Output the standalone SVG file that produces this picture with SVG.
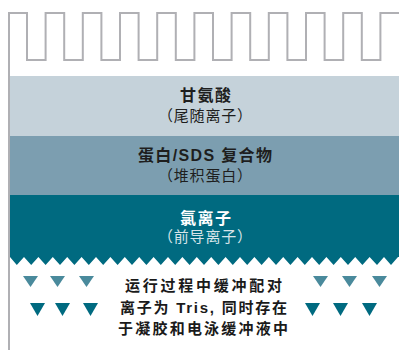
<svg xmlns="http://www.w3.org/2000/svg" width="399" height="350" viewBox="0 0 399 350">
<style>
.t{font-family:"Liberation Sans","Noto Sans CJK SC",sans-serif}
.h{font-size:16px;font-weight:700}
.s{font-size:15px}
.d{fill:#1e1e1e}
.w{fill:#ffffff}
.ws{fill:#d6e4e9}
.b{font-family:"Liberation Sans","Noto Sans CJK SC",sans-serif;font-size:15px;font-weight:700;fill:#1a1a1a}
.tu{fill:#4a8a9c}
.tl{fill:#006a80}
</style>
<rect width="399" height="350" fill="#ffffff"/>
<g id="comb">
<path d="M9,350 V13 H27 V60 H45.6 V13 H64.2 V60 H82.8 V13 H101.4 V60 H120 V13 H138.6 V60 H157.2 V13 H175.8 V60 H194.4 V13 H213 V60 H231.6 V13 H250.2 V60 H268.8 V13 H287.4 V60 H306 V13 H324.6 V60 H343.2 V13 H361.8 V60 H380.4 V13 H399" fill="none" stroke="#b0b0b4" stroke-width="2"/>
</g>
<g id="glycine">
<rect x="10" y="76" width="389" height="60" fill="#c5d2da"/>
<text class="t h d" x="180" y="101" textLength="51" lengthAdjust="spacing">甘氨酸</text>
<text class="t s d" x="158" y="121" textLength="94" lengthAdjust="spacing">（尾随离子）</text>
</g>
<g id="protein">
<rect x="10" y="136" width="389" height="59" fill="#7c9eb0"/>
<text class="t h d" x="138" y="161" textLength="134" lengthAdjust="spacing">蛋白/SDS 复合物</text>
<text class="t s d" x="158" y="181" textLength="94" lengthAdjust="spacing">（堆积蛋白）</text>
</g>
<g id="chloride">
<path d="M10,195 H399 V257 L398,257 L391,265 L384,257 L377,265 L369.6,257 L362.4,265 L355.2,257 L348,265 L340.8,257 L333.6,265 L326.4,257 L319.2,265 L312,257 L304.8,265 L297.6,257 L290.4,265 L283.2,257 L276,265 L268.8,257 L261.6,265 L254.4,257 L247.2,265 L240,257 L232.8,265 L225.6,257 L218.4,265 L211.2,257 L204,265 L196.8,257 L189.6,265 L182.4,257 L175.2,265 L168,257 L160.8,265 L153.6,257 L146.4,265 L139.2,257 L132,265 L124.8,257 L117.6,265 L110.4,257 L103.2,265 L96,257 L88.8,265 L81.6,257 L74.4,265 L67.2,257 L60,265 L52.8,257 L45.6,265 L38.4,257 L31.2,265 L24,257 L16.8,265 L10,257 Z" fill="#006a80"/>
<text class="t h w" x="180" y="224" textLength="51" lengthAdjust="spacing">氯离子</text>
<text class="t s ws" x="158" y="242" textLength="94" lengthAdjust="spacing">（前导离子）</text>
</g>
<g id="buffer">
<polygon class="tu" points="23,276 38,276 30.5,287"/>
<polygon class="tu" points="50,276 65,276 57.5,287"/>
<polygon class="tu" points="79,276 94,276 86.5,287"/>
<polygon class="tl" points="30,303 45,303 37.5,316"/>
<polygon class="tl" points="55,303 70,303 62.5,316"/>
<polygon class="tl" points="83,303 98,303 90.5,316"/>
<polygon class="tu" points="313,276 328,276 320.5,287"/>
<polygon class="tu" points="342,276 357,276 349.5,287"/>
<polygon class="tu" points="372,276 387,276 379.5,287"/>
<polygon class="tl" points="305,303 320,303 312.5,316"/>
<polygon class="tl" points="333,303 348,303 340.5,316"/>
<polygon class="tl" points="362,303 377,303 369.5,316"/>
<text class="b" x="125" y="291" textLength="157" lengthAdjust="spacing">运行过程中缓冲配对</text>
<text class="b" x="120" y="313" textLength="167" lengthAdjust="spacing">离子为 Tris, 同时存在</text>
<text class="b" x="118" y="334" textLength="170" lengthAdjust="spacing">于凝胶和电泳缓冲液中</text>
</g>
</svg>
